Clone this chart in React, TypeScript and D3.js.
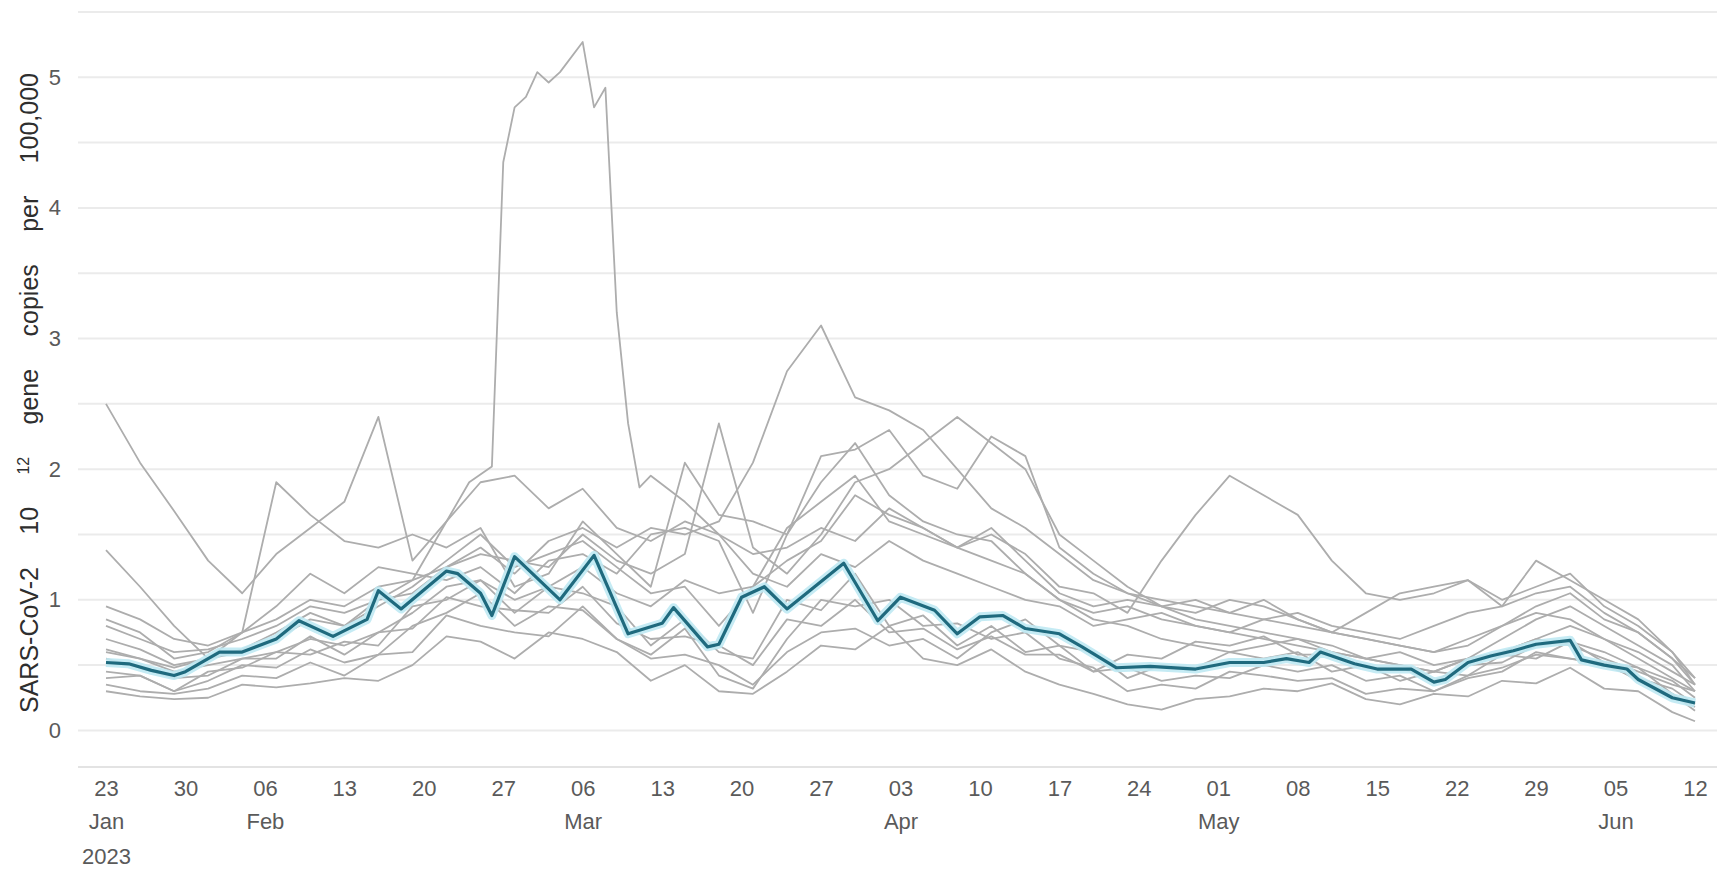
import { useRef, useEffect } from "react";
import * as d3 from "d3";

// 3-day sampling grid shared by most sites
const gridDates = [
  "2023-01-23", "2023-01-26", "2023-01-29", "2023-02-01", "2023-02-04", "2023-02-07",
  "2023-02-10", "2023-02-13", "2023-02-16", "2023-02-19", "2023-02-22", "2023-02-25",
  "2023-02-28", "2023-03-03", "2023-03-06", "2023-03-09", "2023-03-12", "2023-03-15",
  "2023-03-18", "2023-03-21", "2023-03-24", "2023-03-27", "2023-03-30", "2023-04-02",
  "2023-04-05", "2023-04-08", "2023-04-11", "2023-04-14", "2023-04-17", "2023-04-20",
  "2023-04-23", "2023-04-26", "2023-04-29", "2023-05-02", "2023-05-05", "2023-05-08",
  "2023-05-11", "2023-05-14", "2023-05-17", "2023-05-20", "2023-05-23", "2023-05-26",
  "2023-05-29", "2023-06-01", "2023-06-04", "2023-06-07", "2023-06-10", "2023-06-12",
];

const site01 = [2.5, 2.05, 1.68, 1.3, 1.05, 1.35, 1.55, 1.75, 2.4, 1.3, 1.6, 1.9, 1.95, 1.7, 1.85, 1.55, 1.45, 1.6, 1.5, 1.2, 1.1, 1.35, 1.25, 1.45, 1.3, 1.2, 1.1, 1.0, 0.95, 0.8, 0.85, 0.9, 0.8, 0.75, 0.7, 0.65, 0.6, 0.55, 0.6, 0.5, 0.55, 0.6, 0.7, 0.65, 0.55, 0.45, 0.35, 0.3];
const site02 = [1.38, 1.1, 0.8, 0.55, 0.75, 1.9, 1.65, 1.45, 1.4, 1.5, 1.4, 1.55, 1.1, 1.2, 1.6, 1.35, 1.1, 2.05, 1.65, 1.6, 1.5, 2.1, 2.15, 2.3, 1.95, 1.85, 2.25, 2.1, 1.4, 1.2, 1.05, 0.95, 1.0, 0.9, 0.85, 0.8, 0.75, 0.7, 0.65, 0.6, 0.7, 0.8, 0.95, 1.05, 0.85, 0.75, 0.55, 0.4];
const site03 = [0.95, 0.85, 0.7, 0.65, 0.75, 0.85, 1.0, 0.95, 1.1, 1.15, 1.25, 1.4, 1.2, 1.45, 1.55, 1.4, 1.55, 1.5, 1.6, 2.05, 2.75, 3.1, 2.55, 2.45, 2.3, 2.0, 1.7, 1.55, 1.35, 1.15, 1.05, 1.0, 0.95, 0.9, 1.0, 0.85, 0.75, 0.7, 0.65, 0.6, 0.65, 0.8, 0.9, 0.85, 0.7, 0.6, 0.45, 0.35];
const site04 = [0.8, 0.7, 0.6, 0.62, 0.7, 0.8, 0.95, 0.9, 1.0, 1.05, 1.25, 1.35, 1.3, 1.25, 1.5, 1.3, 1.2, 1.35, 2.35, 1.4, 1.2, 1.5, 1.9, 2.0, 2.2, 2.4, 2.2, 2.0, 1.5, 1.3, 1.1, 0.95, 0.85, 0.8, 0.75, 0.7, 0.65, 0.55, 0.5, 0.45, 0.55, 0.7, 0.85, 0.95, 0.8, 0.65, 0.5, 0.3];
const site05 = [0.6, 0.55, 0.45, 0.5, 0.55, 0.6, 0.7, 0.65, 0.75, 0.9, 1.1, 1.15, 1.0, 1.1, 1.25, 1.05, 0.95, 1.15, 1.05, 1.1, 1.3, 1.45, 1.8, 1.65, 1.55, 1.4, 1.5, 1.35, 1.1, 1.05, 0.9, 1.3, 1.65, 1.95, 1.8, 1.65, 1.3, 1.05, 1.0, 1.05, 1.15, 1.0, 1.1, 1.2, 0.95, 0.8, 0.6, 0.4];
const site06 = [0.45, 0.42, 0.3, 0.38, 0.5, 0.48, 0.62, 0.52, 0.58, 0.8, 0.9, 1.05, 0.8, 0.95, 0.92, 0.7, 0.58, 0.78, 0.42, 0.32, 0.7, 1.0, 0.95, 1.0, 0.8, 0.82, 0.7, 0.75, 0.55, 0.48, 0.3, 0.35, 0.32, 0.45, 0.42, 0.38, 0.4, 0.28, 0.32, 0.3, 0.42, 0.48, 0.58, 0.55, 0.52, 0.38, 0.28, 0.15];
const site07 = [0.3, 0.26, 0.24, 0.25, 0.35, 0.33, 0.36, 0.4, 0.38, 0.5, 0.72, 0.68, 0.55, 0.75, 0.7, 0.6, 0.38, 0.5, 0.3, 0.28, 0.45, 0.65, 0.62, 0.8, 0.55, 0.5, 0.62, 0.45, 0.35, 0.28, 0.2, 0.16, 0.24, 0.26, 0.32, 0.3, 0.36, 0.24, 0.2, 0.28, 0.26, 0.38, 0.36, 0.48, 0.32, 0.3, 0.14, 0.07];
const site08 = [0.4, 0.42, 0.3, 0.45, 0.48, 0.6, 0.58, 0.68, 0.65, 0.95, 1.0, 1.15, 0.9, 1.1, 1.05, 0.95, 0.65, 0.85, 0.6, 0.55, 1.0, 0.92, 1.2, 0.8, 0.88, 0.65, 0.8, 0.6, 0.65, 0.45, 0.48, 0.38, 0.42, 0.4, 0.5, 0.45, 0.5, 0.38, 0.42, 0.3, 0.4, 0.45, 0.6, 0.55, 0.5, 0.4, 0.32, 0.2];
const site09 = [0.85, 0.75, 0.55, 0.6, 0.75, 0.95, 1.2, 1.05, 1.25, 1.2, 1.15, 1.25, 1.05, 1.3, 1.35, 1.2, 1.5, 1.55, 1.45, 0.9, 1.5, 1.9, 2.2, 1.8, 1.6, 1.5, 1.45, 1.2, 1.0, 0.9, 0.95, 0.85, 0.8, 0.75, 0.85, 0.9, 0.8, 0.75, 0.7, 0.8, 0.9, 0.95, 1.3, 1.15, 1.0, 0.85, 0.6, 0.35];
const site10 = [0.35, 0.3, 0.28, 0.32, 0.42, 0.4, 0.52, 0.42, 0.58, 0.6, 0.88, 0.8, 0.75, 0.72, 0.95, 0.7, 0.55, 0.58, 0.5, 0.35, 0.6, 0.75, 0.78, 0.65, 0.7, 0.55, 0.75, 0.85, 0.65, 0.6, 0.4, 0.5, 0.48, 0.6, 0.55, 0.6, 0.45, 0.5, 0.38, 0.45, 0.42, 0.58, 0.55, 0.68, 0.52, 0.48, 0.28, 0.18];
const site11 = [0.7, 0.62, 0.5, 0.55, 0.62, 0.75, 0.9, 0.8, 0.95, 1.1, 1.3, 1.5, 1.25, 1.35, 1.45, 1.25, 1.05, 1.1, 0.8, 1.1, 1.55, 1.75, 1.95, 1.6, 1.5, 1.4, 1.55, 1.3, 1.05, 0.95, 1.0, 0.95, 0.9, 1.0, 0.95, 0.85, 0.75, 0.9, 1.05, 1.1, 1.15, 0.95, 1.05, 1.1, 0.9, 0.75, 0.55, 0.35];
const site12 = [0.55, 0.48, 0.4, 0.42, 0.55, 0.55, 0.72, 0.58, 0.75, 0.78, 1.02, 0.95, 0.92, 0.9, 1.1, 0.82, 0.7, 0.72, 0.65, 0.5, 0.85, 0.8, 1.0, 0.75, 0.78, 0.62, 0.72, 0.58, 0.58, 0.45, 0.58, 0.55, 0.68, 0.65, 0.72, 0.58, 0.58, 0.48, 0.48, 0.38, 0.5, 0.52, 0.65, 0.68, 0.6, 0.48, 0.38, 0.25];

// site with the late-February outbreak, sampled more finely
const spikeDates = [
  "2023-01-23", "2023-01-26", "2023-01-29", "2023-02-01", "2023-02-04", "2023-02-07",
  "2023-02-10", "2023-02-13", "2023-02-16", "2023-02-19", "2023-02-22", "2023-02-24",
  "2023-02-26", "2023-02-27", "2023-02-28", "2023-03-01", "2023-03-02", "2023-03-03",
  "2023-03-04", "2023-03-06", "2023-03-07", "2023-03-08", "2023-03-09", "2023-03-10",
  "2023-03-11", "2023-03-12", "2023-03-15", "2023-03-18", "2023-03-21", "2023-03-24",
  "2023-03-27", "2023-03-30", "2023-04-02", "2023-04-05", "2023-04-08", "2023-04-11",
  "2023-04-14", "2023-04-17", "2023-04-20", "2023-04-23", "2023-04-26", "2023-04-29",
  "2023-05-02", "2023-05-05", "2023-05-08", "2023-05-11", "2023-05-14", "2023-05-17",
  "2023-05-20", "2023-05-23", "2023-05-26", "2023-05-29", "2023-06-01", "2023-06-04",
  "2023-06-07", "2023-06-10", "2023-06-12",
];
const spikeValues = [0.62, 0.55, 0.48, 0.55, 0.6, 0.7, 0.85, 0.8, 1.0, 1.15, 1.6, 1.9, 2.02, 4.35, 4.77, 4.85, 5.04, 4.96, 5.04, 5.27, 4.77, 4.92, 3.2, 2.35, 1.86, 1.95, 1.75, 1.5, 1.35, 1.4, 1.55, 1.45, 1.7, 1.55, 1.4, 1.3, 1.2, 1.0, 0.85, 0.8, 0.7, 0.65, 0.6, 0.65, 0.7, 0.6, 0.55, 0.5, 0.45, 0.55, 0.6, 0.7, 0.8, 0.7, 0.55, 0.4, 0.3];

// national average
const meanDates = [
  "2023-01-23", "2023-01-25", "2023-01-27", "2023-01-29", "2023-01-30", "2023-02-02", "2023-02-04", "2023-02-07", "2023-02-09", "2023-02-12",
  "2023-02-15", "2023-02-16", "2023-02-18", "2023-02-22", "2023-02-23", "2023-02-25", "2023-02-26", "2023-02-28", "2023-03-04", "2023-03-07",
  "2023-03-10", "2023-03-13", "2023-03-14", "2023-03-17", "2023-03-18", "2023-03-20", "2023-03-22", "2023-03-24", "2023-03-29", "2023-04-01",
  "2023-04-03", "2023-04-06", "2023-04-08", "2023-04-10", "2023-04-12", "2023-04-14", "2023-04-17", "2023-04-19", "2023-04-22", "2023-04-25",
  "2023-04-29", "2023-05-02", "2023-05-05", "2023-05-07", "2023-05-09", "2023-05-10", "2023-05-13", "2023-05-15", "2023-05-18", "2023-05-20",
  "2023-05-21", "2023-05-23", "2023-05-25", "2023-05-27", "2023-05-29", "2023-06-01", "2023-06-02", "2023-06-04", "2023-06-06", "2023-06-07",
  "2023-06-10", "2023-06-12",
];
const meanValues = [
  0.52, 0.51, 0.46, 0.42, 0.45, 0.6, 0.6, 0.7, 0.84, 0.72,
  0.85, 1.07, 0.93, 1.22, 1.2, 1.05, 0.88, 1.33, 1.0, 1.34,
  0.74, 0.82, 0.94, 0.64, 0.66, 1.02, 1.1, 0.93, 1.28, 0.84,
  1.02, 0.92, 0.74, 0.87, 0.88, 0.78, 0.74, 0.64, 0.48, 0.49,
  0.47, 0.52, 0.52, 0.55, 0.52, 0.6, 0.51, 0.47, 0.47, 0.37,
  0.39, 0.52, 0.57, 0.61, 0.66, 0.69, 0.54, 0.5, 0.47, 0.39,
  0.25, 0.21,
];

const weekTicks = [
  "2023-01-23", "2023-01-30", "2023-02-06", "2023-02-13", "2023-02-20", "2023-02-27",
  "2023-03-06", "2023-03-13", "2023-03-20", "2023-03-27", "2023-04-03", "2023-04-10",
  "2023-04-17", "2023-04-24", "2023-05-01", "2023-05-08", "2023-05-15", "2023-05-22",
  "2023-05-29", "2023-06-05", "2023-06-12",
];
const yTicks = [0, 1, 2, 3, 4, 5];
const gridValues = [0, 0.5, 1, 1.5, 2, 2.5, 3, 3.5, 4, 4.5, 5, 5.5];

const gridSites = [site01, site02, site03, site04, site05, site06, site07, site08, site09, site10, site11, site12];

const W = 1717;
const H = 872;
const FONT = "'Liberation Sans', Arial, sans-serif";
const LABEL = "#5a5a5a";

export default function App() {
  const ref = useRef<SVGSVGElement | null>(null);

  useEffect(() => {
    document.body.style.margin = "0";
    const parse = d3.timeParse("%Y-%m-%d");
    const svg = d3.select(ref.current!);
    svg.selectAll("*").remove();

    const x = d3
      .scaleTime()
      .domain([parse("2023-01-23")!, parse("2023-06-12")!])
      .range([106, 1695]);
    const y = d3.scaleLinear().domain([-0.28, 5.5]).range([767, 12]);

    // gridlines
    svg
      .append("g")
      .selectAll("line")
      .data(gridValues)
      .join("line")
      .attr("x1", 78)
      .attr("x2", W)
      .attr("y1", (d) => y(d))
      .attr("y2", (d) => y(d))
      .attr("stroke", "#ebebeb")
      .attr("stroke-width", 2);

    // bottom panel line
    svg
      .append("line")
      .attr("x1", 78)
      .attr("x2", W)
      .attr("y1", y(-0.28))
      .attr("y2", y(-0.28))
      .attr("stroke", "#e3e3e3")
      .attr("stroke-width", 2);

    const lineGen = d3
      .line<[Date, number]>()
      .x((d) => x(d[0]))
      .y((d) => y(d[1]));

    const grid = gridDates.map((s) => parse(s)!);
    const series: [Date, number][][] = gridSites.map((vals) =>
      vals.map((v, i) => [grid[i], v] as [Date, number])
    );
    series.push(spikeValues.map((v, i) => [parse(spikeDates[i])!, v] as [Date, number]));

    svg
      .append("g")
      .selectAll("path")
      .data(series)
      .join("path")
      .attr("d", (d) => lineGen(d))
      .attr("fill", "none")
      .attr("stroke", "#adadad")
      .attr("stroke-width", 1.8)
      .attr("stroke-linejoin", "round");

    const mean = meanValues.map((v, i) => [parse(meanDates[i])!, v] as [Date, number]);

    // light halo round the average
    svg
      .append("path")
      .attr("d", lineGen(mean))
      .attr("fill", "none")
      .attr("stroke", "#bfe9f3")
      .attr("stroke-opacity", 0.9)
      .attr("stroke-width", 9)
      .attr("stroke-linejoin", "round");

    svg
      .append("path")
      .attr("d", lineGen(mean))
      .attr("fill", "none")
      .attr("stroke", "#1f6a7e")
      .attr("stroke-width", 3.2)
      .attr("stroke-linejoin", "round");

    // y axis labels
    const yAxis: any = d3.axisLeft(y).tickValues(yTicks).tickSize(0).tickPadding(0).tickFormat(d3.format("d"));
    const gy = svg.append("g").attr("transform", "translate(61,0)").call(yAxis);
    gy.select(".domain").remove();
    gy.selectAll("text").attr("font-family", FONT).attr("font-size", 22).attr("fill", LABEL);

    // x axis labels
    const ticks = weekTicks.map((s) => parse(s)!);
    const xAxis: any = d3
      .axisBottom(x)
      .tickValues(ticks)
      .tickSize(0)
      .tickPadding(13)
      .tickFormat(d3.timeFormat("%d") as any);
    const gx = svg.append("g").attr("transform", `translate(0,${y(-0.28)})`).call(xAxis);
    gx.select(".domain").remove();
    gx.selectAll("text").attr("font-family", FONT).attr("font-size", 22).attr("fill", LABEL);

    gx.selectAll<SVGGElement, Date>(".tick").each(function (d, i) {
      const prev = i > 0 ? ticks[i - 1] : null;
      const g = d3.select(this);
      if (!prev || prev.getMonth() !== d.getMonth()) {
        g.append("text")
          .attr("y", 46)
          .attr("dy", "0.71em")
          .attr("text-anchor", "middle")
          .attr("font-family", FONT)
          .attr("font-size", 22)
          .attr("fill", LABEL)
          .text(d3.timeFormat("%b")(d));
      }
      if (!prev) {
        g.append("text")
          .attr("y", 81)
          .attr("dy", "0.71em")
          .attr("text-anchor", "middle")
          .attr("font-family", FONT)
          .attr("font-size", 22)
          .attr("fill", LABEL)
          .text(d3.timeFormat("%Y")(d));
      }
    });

    // y axis title, words spread out to the original span
    const title = svg
      .append("text")
      .attr("transform", "translate(38,393) rotate(-90)")
      .attr("text-anchor", "middle")
      .attr("font-family", FONT)
      .attr("font-size", 25)
      .attr("fill", "#2e2e2e");
    title.append("tspan").text("SARS-CoV-2 10 ");
    title.append("tspan").attr("font-size", 16).attr("dy", -9).text("12");
    title.append("tspan").attr("dy", 9).text(" gene copies per 100,000");
    const node = title.node() as SVGTextElement;
    const len = node.getComputedTextLength();
    const gap = Math.max(0, (640 - len) / 6);
    title.attr("word-spacing", gap);
  }, []);

  return <svg ref={ref} width={W} height={H} style={{ display: "block", background: "#fff" }} />;
}
